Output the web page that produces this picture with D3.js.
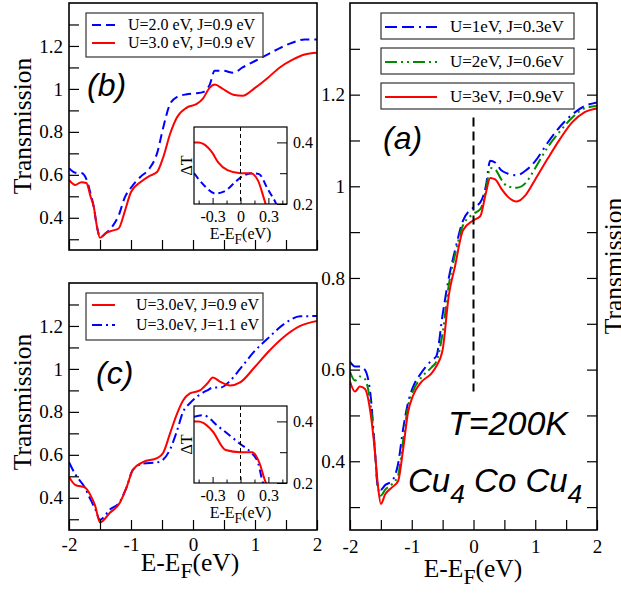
<!DOCTYPE html>
<html>
<head>
<meta charset="utf-8">
<script src="https://cdn.jsdelivr.net/npm/d3@7"></script>
<style>
  body { margin: 0; background: #fff; }
  svg { display: block; }
</style>
</head>
<body>
<svg id="fig" width="621" height="594"></svg>
<script>
// ---------------- data ----------------
// panel (a): Cu4 Co Cu4, T=200K
var energyA = [-2, -1.92, -1.84, -1.76, -1.66, -1.6, -1.55, -1.5, -1.43, -1.32, -1.22, -1.14, -1.06, -0.98, -0.85, -0.68, -0.6, -0.5, -0.4, -0.3,
  -0.17, 0, 0.11, 0.2, 0.27, 0.35, 0.45, 0.55, 0.7, 0.85, 1.0, 1.2, 1.4, 1.6, 1.8, 2.0];
var transA_U1 = [0.617, 0.607, 0.607, 0.6, 0.535, 0.43, 0.346, 0.338, 0.348, 0.357, 0.395, 0.47, 0.528, 0.562, 0.592, 0.62, 0.63, 0.72, 0.80, 0.86,
  0.925, 0.954, 0.965, 1.0, 1.056, 1.052, 1.035, 1.028, 1.024, 1.035, 1.055, 1.095, 1.13, 1.157, 1.175, 1.183];
var transA_U2 = [0.595, 0.576, 0.585, 0.58, 0.515, 0.43, 0.345, 0.325, 0.338, 0.35, 0.37, 0.445, 0.52, 0.553, 0.582, 0.605, 0.618, 0.68, 0.785, 0.85,
  0.915, 0.94, 0.95, 0.99, 1.04, 1.037, 1.015, 1.0, 0.997, 1.008, 1.04, 1.085, 1.12, 1.15, 1.17, 1.175];
var transA_U3 = [0.574, 0.552, 0.563, 0.558, 0.498, 0.426, 0.35, 0.307, 0.328, 0.343, 0.357, 0.426, 0.507, 0.543, 0.572, 0.592, 0.608, 0.643, 0.762, 0.825,
  0.904, 0.926, 0.935, 0.985, 1.018, 1.015, 0.995, 0.978, 0.967, 0.982, 1.015, 1.06, 1.103, 1.14, 1.162, 1.17];
var legendA = ["U=1eV, J=0.3eV", "U=2eV, J=0.6eV", "U=3eV, J=0.9eV"];

// panel (b)
var energyB = [-2, -1.9, -1.8, -1.72, -1.65, -1.6, -1.55, -1.5, -1.4, -1.3, -1.2, -1.1, -1.0, -0.85, -0.7, -0.58, -0.48, -0.37, -0.26, -0.1,
  0.06, 0.16, 0.27, 0.35, 0.48, 0.65, 0.8, 1.0, 1.2, 1.4, 1.6, 1.8, 2.0];
var transB_U2 = [0.631, 0.61, 0.608, 0.58, 0.51, 0.45, 0.36, 0.31, 0.33, 0.36, 0.41, 0.495, 0.54, 0.59, 0.63, 0.70, 0.82, 0.93, 0.962, 0.975,
  0.98, 0.985, 1.02, 1.085, 1.085, 1.075, 1.10, 1.13, 1.16, 1.19, 1.215, 1.23, 1.23];
var transB_U3 = [0.576, 0.553, 0.566, 0.562, 0.497, 0.45, 0.36, 0.307, 0.33, 0.34, 0.35, 0.43, 0.52, 0.565, 0.595, 0.613, 0.682, 0.79, 0.867, 0.913,
  0.93, 0.955, 1.006, 1.02, 1.0, 0.973, 0.968, 1.005, 1.05, 1.1, 1.135, 1.16, 1.168];
var legendB = ["U=2.0 eV, J=0.9 eV", "U=3.0 eV, J=0.9 eV"];

// panel (c)
var energyC = [-2, -1.9, -1.74, -1.65, -1.58, -1.5, -1.34, -1.18, -1.07, -0.97, -0.8, -0.58, -0.48, -0.37, -0.26, -0.16, -0.05, 0.11, 0.23, 0.32,
  0.44, 0.6, 0.76, 1.0, 1.2, 1.45, 1.73, 2.0];
var transC_J09 = [0.497, 0.46, 0.447, 0.41, 0.365, 0.285, 0.33, 0.377, 0.45, 0.53, 0.567, 0.585, 0.61, 0.70, 0.79, 0.853, 0.886, 0.9, 0.932, 0.96,
  0.94, 0.923, 0.937, 1.01, 1.075, 1.145, 1.2, 1.223];
var transC_J11 = [0.566, 0.51, 0.445, 0.39, 0.35, 0.298, 0.345, 0.382, 0.45, 0.53, 0.56, 0.565, 0.578, 0.625, 0.71, 0.80, 0.84, 0.88, 0.9, 0.913,
  0.913, 0.945, 1.0, 1.085, 1.14, 1.205, 1.245, 1.246];
var legendC = ["U=3.0eV, J=0.9 eV", "U=3.0eV, J=1.1 eV"];

// insets: delta T near the Fermi level
var insetB_red_x = [-0.5, -0.45, -0.4, -0.3, -0.24, -0.14, 0, 0.11, 0.19, 0.25, 0.28];
var insetB_red_y = [0.4, 0.4, 0.395, 0.365, 0.335, 0.31, 0.30, 0.30, 0.275, 0.22, 0.19];
var insetB_blue_x = [-0.5, -0.38, -0.27, -0.18, -0.05, 0.02, 0.13, 0.2, 0.29, 0.38, 0.4];
var insetB_blue_y = [0.30, 0.257, 0.234, 0.24, 0.273, 0.29, 0.30, 0.297, 0.25, 0.203, 0.19];
var insetC_red_x = [-0.5, -0.45, -0.4, -0.3, -0.16, 0, 0.13, 0.2, 0.27, 0.29];
var insetC_red_y = [0.4, 0.4, 0.395, 0.368, 0.307, 0.3, 0.3, 0.268, 0.203, 0.19];
var insetC_blue_x = [-0.5, -0.4, -0.24, -0.09, 0, 0.11, 0.19, 0.24, 0.26];
var insetC_blue_y = [0.415, 0.42, 0.384, 0.348, 0.326, 0.3, 0.264, 0.203, 0.19];

// ticks
var xTickVals = [-2, -1.5, -1, -0.5, 0, 0.5, 1, 1.5, 2];
var xMajor = [-2, -1, 0, 1, 2];
var xTickLabels = ["-2", "-1", "0", "1", "2"];
var yTickVals = [0.3, 0.4, 0.5, 0.6, 0.7, 0.8, 0.9, 1.0, 1.1, 1.2, 1.3];
var yMajor = [0.4, 0.6, 0.8, 1.0, 1.2];
var yTickLabels = ["0.4", "0.6", "0.8", "1", "1.2"];
var insetXTicks = [-0.45, -0.3, -0.15, 0, 0.15, 0.3, 0.45];
var insetXMajor = [-0.3, 0, 0.3];
var insetXLabels = ["-0.3", "0", "0.3"];
var insetYTicks = [0.2, 0.3, 0.4];
var insetYMajor = [0.2, 0.4];
var insetYLabels = ["0.2", "0.4"];

// ---------------- drawing ----------------
var SERIF = "'Liberation Serif','Times New Roman',serif";
var SANS = "'Liberation Sans',Arial,sans-serif";
var RED = "#ff0000", BLUE = "#0000ff", GREEN = "#008b00";

var svg = d3.select("#fig");
var clipN = 0;

function zip(xs, ys) { return xs.map(function(v, i) { return [v, ys[i]]; }); }

function labelFor(majors, labels) {
  return function(d) {
    var i = majors.indexOf(d);
    return i >= 0 ? labels[i] : "";
  };
}

function drawCurve(g, x, y, pts, color, dash) {
  var line = d3.line()
    .x(function(d) { return x(d[0]); })
    .y(function(d) { return y(d[1]); })
    .curve(d3.curveMonotoneX);
  g.append("path")
    .attr("d", line(pts))
    .attr("fill", "none")
    .attr("stroke", color)
    .attr("stroke-width", 2)
    .attr("stroke-dasharray", dash || null);
}

function clipGroup(x, y) {
  var id = "clip" + (clipN++);
  var xr = x.range(), yr = y.range();
  svg.append("clipPath").attr("id", id).append("rect")
    .attr("x", xr[0]).attr("y", yr[1])
    .attr("width", xr[1] - xr[0]).attr("height", yr[0] - yr[1]);
  return svg.append("g").attr("clip-path", "url(#" + id + ")");
}

// sub-scripted text, e.g. E-E_F(eV)
function richText(sel, parts, shift) {
  parts.forEach(function(p) {
    var t = sel.append("tspan").text(p.t);
    if (p.sub) t.attr("dy", shift).attr("font-size", p.scale || "0.85em");
    else if (p.back) t.attr("dy", -shift);
  });
}

function mainAxes(x, y, o) {
  var xr = x.range(), yr = y.range();
  var g = svg.append("g");
  g.append("g").attr("transform", "translate(0," + yr[0] + ")")
    .call(d3.axisBottom(x).tickValues(xTickVals).tickSize(-10).tickPadding(o.xPad || 9)
      .tickFormat(o.xLabels ? labelFor(xMajor, xTickLabels) : function() { return ""; }));
  g.append("g").attr("transform", "translate(" + xr[0] + ",0)")
    .call(d3.axisLeft(y).tickValues(yTickVals).tickSize(-10).tickPadding(o.yPad || 6)
      .tickFormat(labelFor(yMajor, yTickLabels)));
  if (o.rightTicks) {
    g.append("g").attr("transform", "translate(" + xr[1] + ",0)")
      .call(d3.axisRight(y).tickValues(yTickVals).tickSize(-10).tickFormat(function() { return ""; }));
  }
  g.selectAll(".domain").remove();
  g.selectAll(".tick line").attr("stroke-width", 1.2);
  g.selectAll("g").attr("font-family", SERIF).attr("font-size", 19);
  g.append("rect")
    .attr("x", xr[0]).attr("y", yr[1])
    .attr("width", xr[1] - xr[0]).attr("height", yr[0] - yr[1])
    .attr("fill", "none").attr("stroke", "#000").attr("stroke-width", 1.6);
}

function inset(x, y, curves) {
  var xr = x.range(), yr = y.range();
  svg.append("rect").attr("x", xr[0]).attr("y", yr[1])
    .attr("width", xr[1] - xr[0]).attr("height", yr[0] - yr[1]).attr("fill", "#fff");
  var cg = clipGroup(x, y);
  curves.forEach(function(c) { drawCurve(cg, x, y, c.pts, c.color, c.dash); });
  // Fermi level marker
  svg.append("line").attr("x1", x(0)).attr("x2", x(0)).attr("y1", yr[1]).attr("y2", yr[0])
    .attr("stroke", "#000").attr("stroke-width", 1).attr("stroke-dasharray", "4,3");
  var g = svg.append("g");
  g.append("g").attr("transform", "translate(0," + yr[0] + ")")
    .call(d3.axisBottom(x).tickValues(insetXTicks).tickSize(-5).tickPadding(7)
      .tickFormat(labelFor(insetXMajor, insetXLabels)))
    .selectAll(".tick line").attr("y2", function(d) { return insetXMajor.indexOf(d) >= 0 ? -6 : -3.5; });
  g.append("g").attr("transform", "translate(" + xr[1] + ",0)")
    .call(d3.axisRight(y).tickValues(insetYTicks).tickSize(-10).tickPadding(6)
      .tickFormat(labelFor(insetYMajor, insetYLabels)))
    .selectAll(".tick line").attr("x2", function(d) { return insetYMajor.indexOf(d) >= 0 ? -10 : -7; });
  g.selectAll(".domain").remove();
  g.selectAll("g").attr("font-family", SERIF).attr("font-size", 16);
  g.append("rect")
    .attr("x", xr[0]).attr("y", yr[1])
    .attr("width", xr[1] - xr[0]).attr("height", yr[0] - yr[1])
    .attr("fill", "none").attr("stroke", "#000").attr("stroke-width", 1.2);
  // axis titles
  var t = svg.append("text").attr("x", (xr[0] + xr[1]) / 2).attr("y", yr[0] + 35)
    .attr("text-anchor", "middle").attr("font-family", SERIF).attr("font-size", 16);
  richText(t, [{t: "E-E"}, {t: "F", sub: true}, {t: "(eV)", back: true}], 5);
  svg.append("text")
    .attr("transform", "translate(" + (xr[0] - 2) + "," + ((yr[0] + yr[1]) / 2) + ") rotate(-90)")
    .attr("text-anchor", "middle").attr("font-family", SERIF).attr("font-size", 16)
    .text("\u0394T");
}

function yTitle(xPos, yPos) {
  svg.append("text")
    .attr("transform", "translate(" + xPos + "," + yPos + ") rotate(-90)")
    .attr("text-anchor", "middle").attr("font-family", SERIF).attr("font-size", 25.5)
    .text("Transmission");
}

function xTitle(xPos, yPos) {
  var t = svg.append("text").attr("x", xPos).attr("y", yPos)
    .attr("text-anchor", "middle").attr("font-family", SERIF).attr("font-size", 25.5);
  richText(t, [{t: "E-E"}, {t: "F", sub: true}, {t: "(eV)", back: true}], 7);
}

function legendBox(x0, y0, w, h, rows, rowGap, textX, fs) {
  svg.append("rect").attr("x", x0).attr("y", y0).attr("width", w).attr("height", h)
    .attr("fill", "#fff").attr("stroke", "#333").attr("stroke-width", 1.2);
  rows.forEach(function(r, i) {
    var ly = y0 + 12 + i * rowGap;
    svg.append("line").attr("x1", x0 + 6).attr("x2", x0 + 29).attr("y1", ly).attr("y2", ly)
      .attr("stroke", r.color).attr("stroke-width", 2).attr("stroke-dasharray", r.dash || null);
    svg.append("text").attr("x", textX).attr("y", ly + 5)
      .attr("font-family", SERIF).attr("font-size", fs).text(r.label);
  });
}

function panelLabel(txt, x, y) {
  svg.append("text").attr("x", x).attr("y", y)
    .attr("font-family", SANS).attr("font-style", "italic").attr("font-size", 32).text(txt);
}

// ---------- panel (b) ----------
var xB = d3.scaleLinear().domain([-2, 2]).range([69, 317]);
var yB = d3.scaleLinear().domain([0.25, 1.4]).range([250, 3]);
var gB = clipGroup(xB, yB);
drawCurve(gB, xB, yB, zip(energyB, transB_U2), BLUE, "9,5");
drawCurve(gB, xB, yB, zip(energyB, transB_U3), RED);
mainAxes(xB, yB, {xLabels: false, yPad: 6});
yTitle(31, 126);
legendBox(86, 13, 177, 44, [
  {label: legendB[0], color: BLUE, dash: "9,5"},
  {label: legendB[1], color: RED}
], 18, 128, 16);
panelLabel("(b)", 87, 96);
inset(d3.scaleLinear().domain([-0.5, 0.5]).range([194, 287]),
      d3.scaleLinear().domain([0.2, 0.45]).range([204, 127]), [
  {pts: zip(insetB_blue_x, insetB_blue_y), color: BLUE, dash: "7,4"},
  {pts: zip(insetB_red_x, insetB_red_y), color: RED}
]);

// ---------- panel (c) ----------
var xC = d3.scaleLinear().domain([-2, 2]).range([69, 317]);
var yC = d3.scaleLinear().domain([0.25, 1.4]).range([530, 283]);
var gC = clipGroup(xC, yC);
drawCurve(gC, xC, yC, zip(energyC, transC_J11), BLUE, "10,4,2,4");
drawCurve(gC, xC, yC, zip(energyC, transC_J09), RED);
mainAxes(xC, yC, {xLabels: true, xPad: 8, yPad: 6});
yTitle(31, 402);
xTitle(190, 571);
legendBox(86, 293, 177, 47, [
  {label: legendC[0], color: RED},
  {label: legendC[1], color: BLUE, dash: "10,4,2,4"}
], 20, 136, 16);
panelLabel("(c)", 96, 384);
inset(d3.scaleLinear().domain([-0.5, 0.5]).range([194, 287]),
      d3.scaleLinear().domain([0.2, 0.45]).range([483, 406]), [
  {pts: zip(insetC_blue_x, insetC_blue_y), color: BLUE, dash: "8,4,2,4"},
  {pts: zip(insetC_red_x, insetC_red_y), color: RED}
]);

// ---------- panel (a) ----------
var xA = d3.scaleLinear().domain([-2, 2]).range([350, 597]);
var yA = d3.scaleLinear().domain([0.25, 1.4]).range([530, 3]);
var dashA = ["12,5,12,5,2,5", "12,4,2,4,2,4", null];
var colA = [BLUE, GREEN, RED];
var gA = clipGroup(xA, yA);
svg.append("line").attr("x1", xA(0)).attr("x2", xA(0)).attr("y1", yA(1.15)).attr("y2", yA(0.552))
  .attr("stroke", "#000").attr("stroke-width", 2).attr("stroke-dasharray", "9,5");
drawCurve(gA, xA, yA, zip(energyA, transA_U1), colA[0], dashA[0]);
drawCurve(gA, xA, yA, zip(energyA, transA_U2), colA[1], dashA[1]);
drawCurve(gA, xA, yA, zip(energyA, transA_U3), colA[2], dashA[2]);
mainAxes(xA, yA, {xLabels: true, xPad: 9.5, yPad: 5, rightTicks: true});
xTitle(473, 577);
legendA.forEach(function(lbl, i) {
  var y0 = 13 + i * 35;
  svg.append("rect").attr("x", 381).attr("y", y0).attr("width", 193).attr("height", 26)
    .attr("fill", "#fff").attr("stroke", "#333").attr("stroke-width", 1.2);
  svg.append("line").attr("x1", 385).attr("x2", 437).attr("y1", y0 + 14).attr("y2", y0 + 14)
    .attr("stroke", colA[i]).attr("stroke-width", 2).attr("stroke-dasharray", dashA[i]);
  svg.append("text").attr("x", 450).attr("y", y0 + 19)
    .attr("font-family", SERIF).attr("font-size", 17).text(lbl);
});
panelLabel("(a)", 383, 149);
svg.append("text").attr("x", 448).attr("y", 435)
  .attr("font-family", SANS).attr("font-style", "italic").attr("font-size", 34).text("T=200K");
var cu = svg.append("text").attr("x", 408).attr("y", 492)
  .attr("font-family", SANS).attr("font-style", "italic").attr("font-size", 33);
richText(cu, [{t: "Cu"}, {t: "4", sub: true, scale: "0.8em"}, {t: " Co Cu", back: true}, {t: "4", sub: true, scale: "0.8em"}], 11);

// axis title of the next (cropped) panel on the right edge
yTitle(622, 266);
</script>
</body>
</html>
